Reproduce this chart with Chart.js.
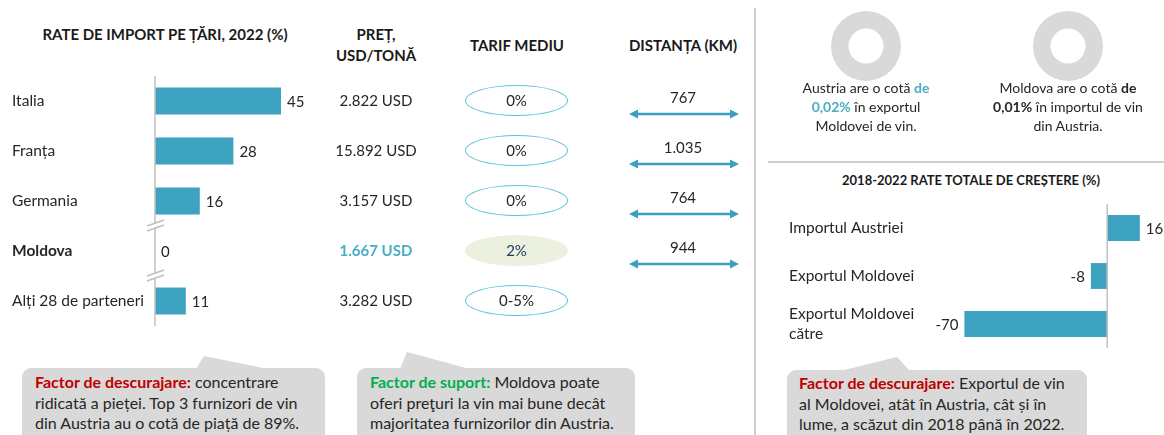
<!DOCTYPE html>
<html>
<head>
<meta charset="utf-8">
<script src="https://cdn.jsdelivr.net/npm/chart.js@4.4.1/dist/chart.umd.min.js"></script>
<style>
  body { margin: 0; width: 1164px; height: 435px; position: relative; overflow: hidden; background: #fff;
         font-family: Lato, "Open Sans", sans-serif; color: #262626; }
  .abs { position: absolute; }
  .hdr { font-weight: bold; font-size: 15px; text-align: center; line-height: 21px; color: #1a1a1a; }
  .txt { font-size: 14px; line-height: 19px; text-align: center; }
  .col { font-size: 15px; line-height: 20px; text-align: center; }
  .ell { position: absolute; width: 101px; height: 29px; border: 1.5px solid #5cc2df; border-radius: 50%;
         font-size: 15px; line-height: 29px; text-align: center; }
  .box { font-size: 16px; line-height: 20.5px; }
  .red { color: #c00000; font-weight: bold; }
  .green { color: #00b050; font-weight: bold; }
</style>
</head>
<body>
<svg class="abs" style="left:0;top:0" width="1164" height="435">
  <line x1="755" y1="8" x2="755" y2="435" stroke="#d0d0d0" stroke-width="2"/>
  <line x1="768" y1="162" x2="1164" y2="162" stroke="#bfbfbf" stroke-width="1.5"/>
  <rect x="22" y="368" width="303" height="80" rx="9" fill="#d9d9d9"/>
  <polygon points="196,369 204,356 268,369" fill="#d9d9d9"/>
  <rect x="357" y="368" width="278" height="80" rx="9" fill="#d9d9d9"/>
  <polygon points="400,369 407,352 470,369" fill="#d9d9d9"/>
  <rect x="787" y="370" width="300" height="80" rx="9" fill="#d9d9d9"/>
  <polygon points="840,371 897,357 910,371" fill="#d9d9d9"/>
</svg>

<div class="abs hdr" style="left:10px;top:24px;width:310px">RATE DE IMPORT PE ȚĂRI, 2022 (%)</div>
<div class="abs hdr" style="left:316px;top:24px;width:120px">PREȚ,<br>USD/TONĂ</div>
<div class="abs hdr" style="left:447px;top:35px;width:140px">TARIF MEDIU</div>
<div class="abs hdr" style="left:603px;top:35px;width:160px">DISTANȚA (KM)</div>
<div class="abs hdr" style="left:821px;top:170px;width:300px;font-size:13px">2018-2022 RATE TOTALE DE CREȘTERE (%)</div>

<div class="abs" style="left:0;top:76px;width:323px;height:250px"><canvas id="importChart"></canvas></div>
<div class="abs" style="left:770px;top:204px;width:394px;height:144px"><canvas id="growthChart"></canvas></div>
<div class="abs" style="left:831px;top:11px;width:70px;height:70px"><canvas id="donutA"></canvas></div>
<div class="abs" style="left:1033px;top:11px;width:70px;height:70px"><canvas id="donutB"></canvas></div>

<div class="abs txt" style="left:776px;top:78px;width:180px">Austria are o cotă <b style="color:#4bacc6">de</b><br><b style="color:#4bacc6">0,02%</b> în exportul<br>Moldovei de vin.</div>
<div class="abs txt" style="left:973px;top:78px;width:190px">Moldova are o cotă <b>de</b><br><b>0,01%</b> în importul de vin<br>din Austria.</div>

<div class="abs box" style="left:35px;top:372px;width:290px"><span class="red">Factor de descurajare:</span> concentrare<br>ridicată a pieței. Top 3 furnizori de vin<br>din Austria au o cotă de piață de 89%.</div>
<div class="abs box" style="left:370px;top:372px;width:265px"><span class="green">Factor de suport:</span> Moldova poate<br>oferi preţuri la vin mai bune decât<br>majoritatea furnizorilor din Austria.</div>
<div class="abs box" style="left:799px;top:373px;width:290px"><span class="red">Factor de descurajare:</span> Exportul de vin<br>al Moldovei, atât în Austria, cât și în<br>lume, a scăzut din 2018 până în 2022.</div>

<div id="cols"></div>

<script>
// data
const partners = ['Italia', 'Franța', 'Germania', 'Moldova', 'Alți 28 de parteneri'];
const importShare = [45, 28, 16, 0, 11];
const pricesUsd = ['2.822 USD', '15.892 USD', '3.157 USD', '1.667 USD', '3.282 USD'];
const tariffs = ['0%', '0%', '0%', '2%', '0-5%'];
const distancesKm = ['767', '1.035', '764', '944'];
const growthLabels = ['Importul Austriei', 'Exportul Moldovei', ['Exportul Moldovei', 'către']];
const growthRates = [16, -8, -70];
const exportShares = [0.02, 0.01];

const BAR = '#3ea3c1';
const FONT = 'Lato, "Open Sans", sans-serif';
Chart.defaults.font.family = FONT;
Chart.defaults.color = '#262626';

// value labels next to the bars
const valueLabels = {
    id: 'valueLabels',
    afterDatasetsDraw(chart) {
        const ctx = chart.ctx;
        const vals = chart.data.datasets[0].data;
        ctx.save();
        ctx.font = '15px ' + FONT;
        ctx.fillStyle = '#262626';
        ctx.textBaseline = 'middle';
        chart.getDatasetMeta(0).data.forEach(function(bar, i) {
            const v = vals[i];
            ctx.textAlign = v < 0 ? 'right' : 'left';
            ctx.fillText(String(v), v < 0 ? bar.x - 6 : bar.x + 6, bar.y + 1);
        });
        ctx.restore();
    }
};

// vertical axis line, with optional break marks between rows
function axisLine(breakAfter) {
    return {
        id: 'axisLine',
        afterDatasetsDraw(chart) {
            const ctx = chart.ctx;
            const x = chart.scales.x.getPixelForValue(0);
            const ys = chart.scales.y;
            const top = chart.chartArea.top, bottom = chart.chartArea.bottom;
            const cuts = breakAfter.map(i => (ys.getPixelForValue(i) + ys.getPixelForValue(i + 1)) / 2);
            ctx.save();
            ctx.strokeStyle = '#bfbfbf';
            ctx.lineWidth = 1.5;
            let y0 = top;
            cuts.forEach(function(c) {
                ctx.beginPath(); ctx.moveTo(x, y0); ctx.lineTo(x, c - 3); ctx.stroke();
                [c - 3, c + 2].forEach(function(s) {
                    ctx.beginPath(); ctx.moveTo(x - 8, s + 3); ctx.lineTo(x + 9, s - 3); ctx.stroke();
                });
                y0 = c + 2;
            });
            ctx.beginPath(); ctx.moveTo(x, y0); ctx.lineTo(x, bottom); ctx.stroke();
            ctx.restore();
        }
    };
}

function fixY(width) {
    return function(scale) {
        scale.width = width;
        scale.paddingTop = 0;
        scale.paddingBottom = 0;
    };
}

const importChart = new Chart(document.getElementById('importChart'), {
    type: 'bar',
    data: {
        labels: partners,
        datasets: [{ data: importShare, backgroundColor: BAR, borderWidth: 0,
                     barPercentage: 0.54, categoryPercentage: 1 }]
    },
    options: {
        indexAxis: 'y',
        responsive: true,
        maintainAspectRatio: false,
        animation: false,
        layout: { padding: { left: 12, right: 0, top: 0, bottom: 0 } },
        plugins: { legend: { display: false }, tooltip: { enabled: false } },
        scales: {
            x: { display: false, min: 0, max: 60 },
            y: {
                grid: { display: false, drawTicks: false },
                border: { display: false },
                afterFit: fixY(143),
                ticks: {
                    crossAlign: 'far',
                    color: '#262626',
                    font: ctx => ({ size: 15.5, weight: ctx.index === 3 ? 'bold' : 'normal' })
                }
            }
        }
    },
    plugins: [valueLabels, axisLine([2, 3])]
});

new Chart(document.getElementById('growthChart'), {
    type: 'bar',
    data: {
        labels: growthLabels,
        datasets: [{ data: growthRates, backgroundColor: BAR, borderWidth: 0,
                     barPercentage: 0.54, categoryPercentage: 1 }]
    },
    options: {
        indexAxis: 'y',
        responsive: true,
        maintainAspectRatio: false,
        animation: false,
        layout: { padding: { left: 19, right: 16, top: 0, bottom: 0 } },
        plugins: { legend: { display: false }, tooltip: { enabled: false } },
        scales: {
            x: { display: false, min: -80, max: 20 },
            y: {
                grid: { display: false, drawTicks: false },
                border: { display: false },
                afterFit: fixY(155),
                ticks: { crossAlign: 'far', color: '#262626', font: { size: 15.5, lineHeight: 1.35 } }
            }
        }
    },
    plugins: [valueLabels, axisLine([])]
});

['donutA', 'donutB'].forEach(function(id, i) {
    new Chart(document.getElementById(id), {
        type: 'doughnut',
        data: { datasets: [{ data: [exportShares[i], 100 - exportShares[i]],
                             backgroundColor: [BAR, '#d9d9d9'], borderWidth: 0 }] },
        options: {
            responsive: true, maintainAspectRatio: false, animation: false, cutout: '50%',
            plugins: { legend: { display: false }, tooltip: { enabled: false } }
        }
    });
});

// text columns aligned on the rows of the import chart
const cols = document.getElementById('cols');
const yScale = importChart.scales.y;
partners.forEach(function(p, i) {
    const y = 76 + yScale.getPixelForValue(i);
    const price = document.createElement('div');
    price.className = 'abs col';
    price.style.cssText = 'left:316px;width:120px;top:' + (y - 11) + 'px;' +
        (i === 3 ? 'font-weight:bold;color:#4bacc6;' : '');
    price.textContent = pricesUsd[i];
    cols.appendChild(price);

    const ell = document.createElement('div');
    ell.className = 'ell';
    ell.style.left = (517 - 52) + 'px';
    ell.style.top = (y - 16) + 'px';
    if (i === 3) { ell.style.border = '1.5px solid transparent'; ell.style.background = '#ebf1de'; ell.style.color = '#243a5e'; }
    ell.textContent = tariffs[i];
    cols.appendChild(ell);

    if (i < distancesKm.length) {
        const d = document.createElement('div');
        d.className = 'abs col';
        d.style.cssText = 'left:623px;width:120px;top:' + (y - 14) + 'px';
        d.textContent = distancesKm[i];
        cols.appendChild(d);
        const a = document.createElementNS('http://www.w3.org/2000/svg', 'svg');
        a.setAttribute('class', 'abs');
        a.setAttribute('width', '110');
        a.setAttribute('height', '12');
        a.style.left = '629px';
        a.style.top = (y + 7) + 'px';
        a.innerHTML = '<line x1="6" y1="6" x2="104" y2="6" stroke="#3d9fc0" stroke-width="2.5"/>' +
            '<polygon points="0,6 9,1.5 9,10.5" fill="#3d9fc0"/>' +
            '<polygon points="110,6 101,1.5 101,10.5" fill="#3d9fc0"/>';
        cols.appendChild(a);
    }
});
</script>
</body>
</html>
